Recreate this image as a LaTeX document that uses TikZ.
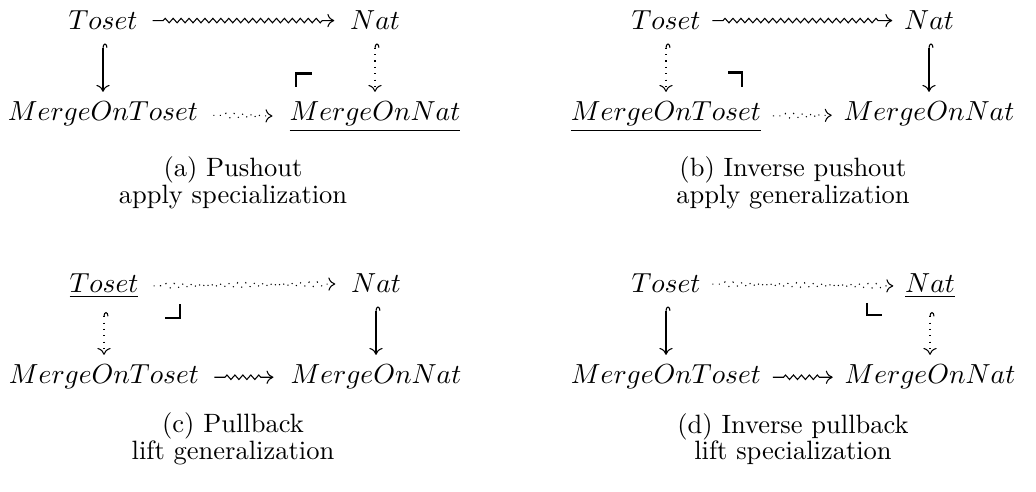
\documentclass[tikz,border=0pt]{standalone}
\usepackage{amsmath,amssymb,graphicx}
\usetikzlibrary{arrows.meta,decorations.pathmorphing}
% objects of the diagrams, set in math italic a touch larger than the captions
\newcommand\cdobj[1]{\scalebox{1.04}{$#1$}}
\begin{document}
\begin{tikzpicture}[
  x=0.3774pt, y=-0.3774pt,
  obj/.style={anchor=base, inner xsep=4.3pt, inner ysep=3.7pt},
  caption/.style={align=center, anchor=center, inner sep=0pt},
  cdline/.style={line width=0.4pt},
  tip/.style={-{Computer Modern Rightarrow[length=2.6pt,width=5pt]}},
  hooked/.style={cdline, shorten <=1.2pt,
                 {Hooks[right,length=1.6pt,width=3.4pt]}-{Computer Modern Rightarrow[length=2.6pt,width=5pt]}},
  squig/.style={cdline, tip, decorate, decoration={zigzag, segment length=3pt, amplitude=0.85pt,
                pre=lineto, pre length=4pt, post=lineto, post length=4pt}},
  corner/.style={line width=0.85pt}
]
\useasboundingbox (0,0) rectangle (1036,492);

% (a) pushout
\node[obj, inner xsep=5.5pt] (a1) at (103,30)  {\cdobj{Toset}};
\node[obj, inner xsep=5.8pt] (a2) at (375,30)  {\cdobj{Nat}};
\node[obj, inner xsep=5.6pt] (a3) at (103,121) {\cdobj{MergeOnToset}};
\node[obj, inner xsep=6.3pt] (a4) at (375,121) {\cdobj{\underline{MergeOnNat}}};
\draw[squig] (a1) -- (a2);
\draw[hooked] (a1) -- (a3);
\draw[hooked, dotted] (a2) -- (a4);
\draw[squig, dotted] (a3) -- (a4);
\draw[corner] (296,87) -- (296,73.5) -- (311.5,73.5);
\node[caption] (acap) at (233,183) {(a) Pushout\\[-2pt]apply specialization};

% (b) inverse pushout
\node[obj] (b1) at (666,30)  {\cdobj{Toset}};
\node[obj] (b2) at (929,30)  {\cdobj{Nat}};
\node[obj] (b3) at (666,121) {\cdobj{\underline{MergeOnToset}}};
\node[obj] (b4) at (929,121) {\cdobj{MergeOnNat}};
\draw[squig] (b1) -- (b2);
\draw[hooked, dotted] (b1) -- (b3);
\draw[hooked] (b2) -- (b4);
\draw[squig, dotted] (b3) -- (b4);
\draw[corner] (728,72.5) -- (742,72.5) -- (742,87);
\node[caption] (bcap) at (793,183) {(b) Inverse pushout\\[-2pt]apply generalization};

% (c) pullback
\node[obj, inner xsep=5.5pt] (c1) at (104,293) {\cdobj{\underline{Toset}}};
\node[obj, inner xsep=5.8pt] (c2) at (376,293) {\cdobj{Nat}};
\node[obj, inner xsep=5.6pt] (c3) at (104,384) {\cdobj{MergeOnToset}};
\node[obj, inner xsep=6.3pt] (c4) at (376,384) {\cdobj{MergeOnNat}};
\draw[squig, dotted] (c1) -- (c2);
\draw[hooked, dotted] (c1) -- (c3);
\draw[hooked] (c2) -- (c4);
\draw[squig] (c3) -- (c4);
\draw[corner] (165,318) -- (180,318) -- (180,304);
\node[caption] (ccap) at (233,439) {(c) Pullback\\[-2pt]lift generalization};

% (d) inverse pullback
\node[obj] (d1) at (666,293) {\cdobj{Toset}};
\node[obj] (d2) at (930,293) {\cdobj{\underline{Nat}}};
\node[obj] (d3) at (666,384) {\cdobj{MergeOnToset}};
\node[obj] (d4) at (930,384) {\cdobj{MergeOnNat}};
\draw[squig, dotted] (d1) -- (d2);
\draw[hooked] (d1) -- (d3);
\draw[hooked, dotted] (d2) -- (d4);
\draw[squig] (d3) -- (d4);
\draw[corner] (867,303) -- (867,315) -- (882,315);
\node[caption] (dcap) at (793,439) {(d) Inverse pullback\\[-2pt]lift specialization};
\end{tikzpicture}
\end{document}
